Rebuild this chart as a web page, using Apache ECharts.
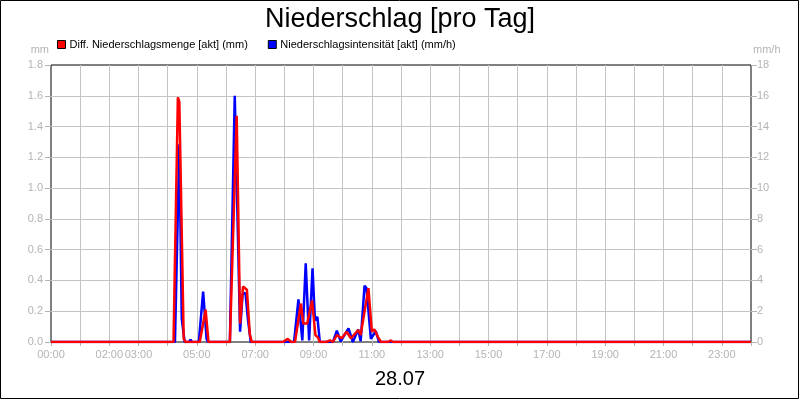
<!DOCTYPE html>
<html>
<head>
<meta charset="utf-8">
<script src="https://cdn.jsdelivr.net/npm/echarts@6/dist/echarts.min.js"></script>
<style>html,body{margin:0;padding:0;background:#fff}#c{width:800px;height:400px}</style>
</head>
<body>
<div id="c"></div>
<script>
// time in minutes since 00:00, value
const redName = 'Diff. Niederschlagsmenge [akt] (mm)';
const blueName = 'Niederschlagsintensität [akt] (mm/h)';
const redData = [[0,0],[252,0],[261,1.59],[264,1.56],[273,0.02],[277,0],[306,0],[318,0.21],[324,0],[331,0],[335,0.012],[341,0],
  [368,0],[382,1.47],[389,0.12],[395,0.36],[399,0.37],[403,0.34],[409,0.05],[413,0],
  [477,0],[487,0.02],[494,0],[502,0],[514,0.25],[519,0.12],[527,0.12],[537,0.27],[544,0.045],[549,0.03],[553,0],
  [566,0],[574,0.01],[580,0],[588,0.045],[598,0.024],[608,0.067],[617,0.024],[632,0.078],[637,0.045],[653,0.35],
  [660,0.067],[665,0.082],[673,0.03],[679,0],[693,0],[699,0.01],[704,0],[1440,0]];
const blueData = [[0,0],[255,0],[264,12.85],[269,1.5],[275,0],[284,0],[287,0.15],[290,0],[304,0],[313,3.27],[320,0.2],[323,0],
  [368,0],[378,16.0],[389,0.67],[394,3.1],[400,3.2],[405,1.5],[411,0],
  [500,0],[509,2.77],[517,0.1],[524,5.11],[531,0.1],[538,4.79],[543,1.4],[548,1.64],[553,0],
  [580,0],[588,0.73],[596,0.05],[612,0.89],[621,0],[632,0.82],[637,0.05],[645,3.66],[649,3.5],[658,0.2],[668,0.7],[675,0],[1440,0]];
const xTickLabels = ['00:00','02:00','03:00','05:00','07:00','09:00','11:00','13:00','15:00','17:00','19:00','21:00','23:00'];
const titleText = 'Niederschlag [pro Tag]';
const dateText = '28.07';

const FONT = "'Liberation Sans', Arial, sans-serif";
const GREY = '#b4b4b4';
const GRID = '#c4c4c4';
const chart = echarts.init(document.getElementById('c'), null, {renderer:'canvas'});
function fmtMin(v){ const h = Math.floor(v/60), m = v%60; return String(h).padStart(2,'0')+':'+String(m).padStart(2,'0'); }
chart.setOption({
  animation:false,
  backgroundColor:'#fff',
  title:[
    {text:titleText, left:'center', top:6, padding:0, textStyle:{fontFamily:FONT, fontSize:27, fontWeight:'normal', color:'#000'}},
    {text:dateText, left:'center', top:369, padding:0, textStyle:{fontFamily:FONT, fontSize:20, fontWeight:'normal', color:'#000'}}
  ],
  legend:{
    data:[redName, blueName], left:57, top:39, padding:0, icon:'rect', itemWidth:8, itemHeight:8, itemGap:20,
    itemStyle:{borderColor:'#000', borderWidth:1},
    textStyle:{fontFamily:FONT, fontSize:11, color:'#000', padding:[0,0,0,-1]}
  },
  graphic:[{type:'rect', shape:{x:0.5, y:0.5, width:798, height:398}, style:{fill:'none', stroke:'#000', lineWidth:1}, silent:true}],
  grid:{left:51, right:49, top:65, bottom:58, show:true, borderColor:'#000', borderWidth:1, backgroundColor:'transparent'},
  xAxis:{
    type:'value', min:0, max:1440, interval:60,
    axisLine:{show:false},
    axisTick:{show:true, length:4, lineStyle:{color:GREY}},
    splitLine:{show:true, showMinLine:false, showMaxLine:false, lineStyle:{color:GRID, width:1}},
    axisLabel:{fontFamily:FONT, fontSize:11, color:GREY, margin:7, showMinLabel:true, showMaxLabel:true, hideOverlap:false,
      formatter:function(v){ const s = fmtMin(v); return xTickLabels.indexOf(s) >= 0 ? s : ''; }}
  },
  yAxis:[
    {type:'value', min:0, max:1.8, interval:0.2, position:'left', name:'mm', nameLocation:'end', nameGap:10,
      nameTextStyle:{fontFamily:FONT, fontSize:11, color:GREY, align:'right', padding:[0,2,0,0]},
      axisLine:{show:false}, axisTick:{show:true, length:6, lineStyle:{color:GREY}},
      splitLine:{show:true, showMinLine:false, showMaxLine:false, lineStyle:{color:GRID, width:1}},
      axisLabel:{fontFamily:FONT, fontSize:11, color:GREY, margin:8, formatter:function(v){return v.toFixed(1);}}},
    {type:'value', min:0, max:18, interval:2, position:'right', name:'mm/h', nameLocation:'end', nameGap:10,
      nameTextStyle:{fontFamily:FONT, fontSize:11, color:GREY, align:'left', padding:[0,0,0,2]},
      axisLine:{show:false}, axisTick:{show:true, length:6, lineStyle:{color:GREY}},
      splitLine:{show:false},
      axisLabel:{fontFamily:FONT, fontSize:11, color:GREY, margin:6}}
  ],
  series:[
    {name:redName, type:'line', yAxisIndex:0, data:redData, symbol:'none', z:4, color:'#ff0000',
      lineStyle:{color:'#ff0000', width:2.5}},
    {name:blueName, type:'line', yAxisIndex:1, data:blueData, symbol:'none', z:3, color:'#0000ff',
      lineStyle:{color:'#0000ff', width:2.5}}
  ]
});
</script>
</body>
</html>
